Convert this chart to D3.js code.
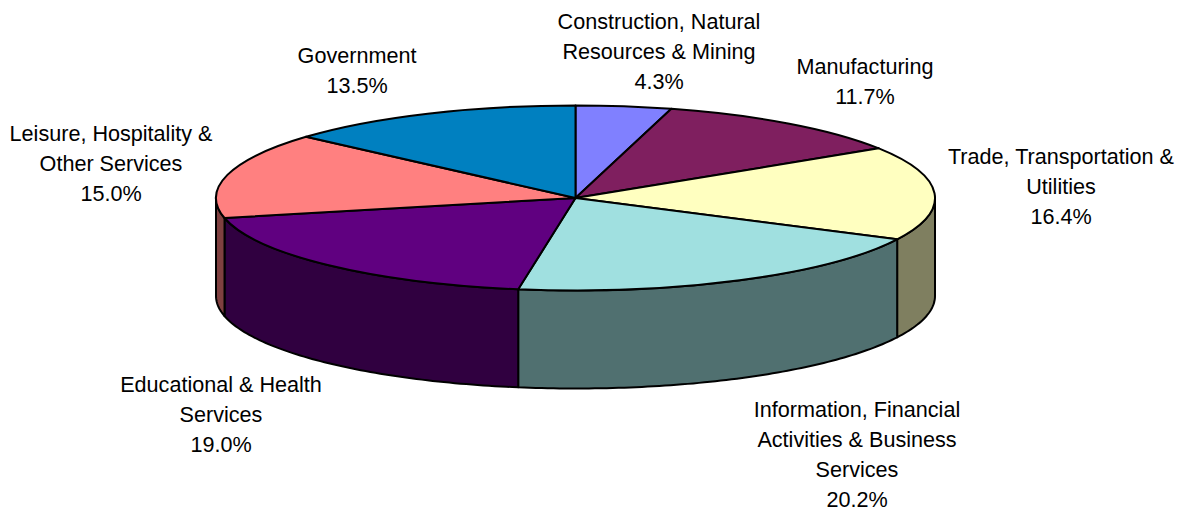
<!DOCTYPE html>
<html>
<head>
<meta charset="utf-8">
<script src="https://cdnjs.cloudflare.com/ajax/libs/d3/7.8.5/d3.min.js"></script>
<style>
  html, body { margin: 0; padding: 0; background: #fff; }
  text { font-family: "Liberation Sans", Arial, sans-serif; font-size: 21.6px; fill: #000; }
</style>
</head>
<body>
<svg id="chart" width="1186" height="512"></svg>
<script>
const categories = [
  'Construction, Natural Resources & Mining',
  'Manufacturing',
  'Trade, Transportation & Utilities',
  'Information, Financial Activities & Business Services',
  'Educational & Health Services',
  'Leisure, Hospitality & Other Services',
  'Government',
];
const shares = [4.3, 11.7, 16.4, 20.2, 19.0, 15.0, 13.5];
const topColors = ['#8080ff', '#7f1f5f', '#ffffc0', '#a0e0e0', '#600080', '#ff8080', '#0080c0'];
const sideColors = ['#40407f', '#3f0f2f', '#7f7f60', '#507070', '#300040', '#7f4040', '#004060'];
const labelLines = [
  ['Construction, Natural', 'Resources & Mining', '4.3%'],
  ['Manufacturing', '11.7%'],
  ['Trade, Transportation &', 'Utilities', '16.4%'],
  ['Information, Financial', 'Activities & Business', 'Services', '20.2%'],
  ['Educational & Health', 'Services', '19.0%'],
  ['Leisure, Hospitality &', 'Other Services', '15.0%'],
  ['Government', '13.5%'],
];
const labelAnchors = [[659, 21], [865, 66], [1061, 156], [857, 409.5], [221, 384], [111, 133], [357, 55]];

const cx = 575.5;
const cy = 198;
const rx = 359.5;
const ry = 92.5;
const depth = 98;
const lineHeight = 30;
const strokeWidth = 2;

const svg = d3.select('#chart');

const slices = d3.pie().sort(null)(shares);

// flat pie squashed into an ellipse, the stroke stays the same width
const arc = d3.arc().innerRadius(0).outerRadius(rx);

// point on the rim, angle from 12 o'clock as in d3.pie
const rim = (a, dy) => [cx + rx * Math.sin(a), cy - ry * Math.cos(a) + dy];

const wallPath = (a0, a1) => {
  const p = d3.path();
  const steps = Math.max(2, Math.ceil((a1 - a0) * 60));
  const angle = d3.scaleLinear().domain([0, steps]).range([a0, a1]);
  d3.range(steps + 1).forEach((i) => {
    const [x, y] = rim(angle(i), 0);
    if (i === 0) p.moveTo(x, y); else p.lineTo(x, y);
  });
  d3.range(steps, -1, -1).forEach((i) => {
    const [x, y] = rim(angle(i), depth);
    p.lineTo(x, y);
  });
  p.closePath();
  return p.toString();
};

// only the front half of the rim (90deg to 270deg) has a visible wall
const walls = slices
  .map((d, i) => ({
    i,
    a0: Math.max(d.startAngle, Math.PI / 2),
    a1: Math.min(d.endAngle, Math.PI * 1.5),
  }))
  .filter(d => d.a1 > d.a0);

svg.append('g')
  .selectAll('path')
  .data(walls)
  .enter()
  .append('path')
  .attr('d', d => wallPath(d.a0, d.a1))
  .attr('fill', d => sideColors[d.i])
  .attr('stroke', '#000')
  .attr('stroke-width', strokeWidth)
  .attr('stroke-linejoin', 'round');

svg.append('g')
  .attr('transform', `translate(${cx},${cy}) scale(1,${ry / rx})`)
  .selectAll('path')
  .data(slices)
  .enter()
  .append('path')
  .attr('d', arc)
  .attr('fill', (d, i) => topColors[i])
  .attr('stroke', '#000')
  .attr('stroke-width', strokeWidth)
  .attr('stroke-linejoin', 'round')
  .attr('vector-effect', 'non-scaling-stroke');

const labels = svg.append('g')
  .selectAll('text')
  .data(labelLines)
  .enter()
  .append('text')
  .attr('text-anchor', 'middle')
  .attr('transform', (d, i) => `translate(${labelAnchors[i][0]},${labelAnchors[i][1]})`);

labels.selectAll('tspan')
  .data(d => d)
  .enter()
  .append('tspan')
  .attr('x', 0)
  .attr('y', (d, i) => i * lineHeight)
  .attr('dy', '0.35em')
  .text(d => d);
</script>
</body>
</html>
